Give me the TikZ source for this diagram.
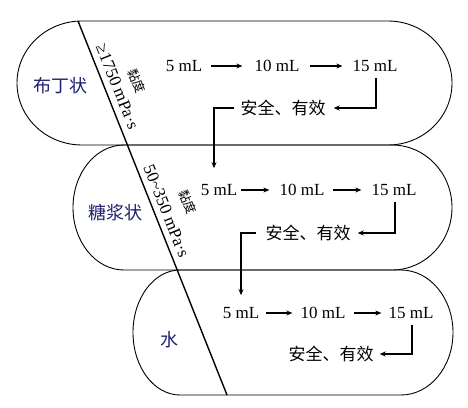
\documentclass[tikz,border=0pt]{standalone}
\usepackage{fontspec}
\setmainfont{Liberation Serif}
\newfontfamily\cjk{Noto Sans CJK SC}
\usetikzlibrary{arrows.meta}
\definecolor{navy}{HTML}{1F1F70}
\tikzset{
  stad/.style={draw=black,line width=0.9pt},
  ml/.style={inner sep=0pt,font=\fontsize{17}{20}\selectfont},
  ok/.style={inner sep=0pt,font=\fontsize{17}{20}\selectfont\cjk},
  lab/.style={inner sep=0pt,text=navy,font=\fontsize{18}{20}\selectfont\cjk},
  visc/.style={inner sep=0pt,rotate=-68.28,font=\fontsize{17}{20}\selectfont},
  nian/.style={inner sep=0pt,rotate=-68.28,font=\fontsize{12.5}{14}\selectfont\cjk},
  arr/.style={line width=1.3pt,-{Stealth[length=6pt,width=5pt]}},
}
\begin{document}
\begin{tikzpicture}[x=1pt,y=-1pt]
\useasboundingbox (0,0) rectangle (468,407);
% stadiums
\draw[stad] (82,21) -- (388,21) arc[start angle=-90,end angle=90,x radius=64,y radius=62]
  -- (82,145) arc[start angle=90,end angle=270,x radius=65,y radius=62] -- cycle;
\draw[stad] (124,145) -- (392,145) arc[start angle=-90,end angle=90,x radius=60,y radius=62.5]
  -- (124,270) arc[start angle=90,end angle=270,x radius=51,y radius=62.5] -- cycle;
\draw[stad] (180,270) -- (401,270) arc[start angle=-90,end angle=90,x radius=52,y radius=62.5]
  -- (180,395) arc[start angle=90,end angle=270,x radius=47,y radius=62.5] -- cycle;
% diagonal
\coordinate (dtop) at (78,21);
\coordinate (dbot) at (227,395);
\draw[line width=1.4pt] (dtop) -- (dbot);
% labels
\node[lab] (l1) at (60,86) {布丁状};
\node[lab] (l2) at (115,213) {糖浆状};
\node[lab] (l3) at (169,340) {水};
\node[visc] (v1) at (117.5,86.5) {≥1750 mPa·s};
\node[nian] (k1) at (136.7,81) {黏度};
\node[visc] (v2) at (166.5,211) {50\textasciitilde350 mPa·s};
\node[nian] (k2) at (188,202) {黏度};
% row 1
\node[ml] (n11) at (184,66) {5 mL};
\node[ml] (n12) at (277,66) {10 mL};
\node[ml] (n13) at (375,66) {15 mL};
\node[ok] (s1) at (283,108) {安全、有效};
% row 2
\node[ml] (n21) at (219,190) {5 mL};
\node[ml] (n22) at (302,190) {10 mL};
\node[ml] (n23) at (394,190) {15 mL};
\node[ok] (s2) at (308,233) {安全、有效};
% row 3
\node[ml] (n31) at (241,313) {5 mL};
\node[ml] (n32) at (323,313) {10 mL};
\node[ml] (n33) at (411,313) {15 mL};
\node[ok] (s3) at (331,354) {安全、有效};
% arrows row 1
\draw[arr,shorten <=9pt,shorten >=12pt] (n11.east) -- (n12.west);
\draw[arr,shorten <=10pt,shorten >=10pt] (n12.east) -- (n13.west);
\draw[arr] ([xshift=1pt,yshift=-6pt]n13.south) |- ([xshift=8pt]s1.east);
\draw[arr] ([xshift=-6pt]s1.west) -| ([xshift=-5pt,yshift=16pt]n21.north);
% arrows row 2
\draw[arr,shorten <=4pt,shorten >=10pt] (n21.east) -- (n22.west);
\draw[arr,shorten <=8pt,shorten >=10pt] (n22.east) -- (n23.west);
\draw[arr] ([xshift=1pt,yshift=-6pt]n23.south) |- ([xshift=7pt]s2.east);
\draw[arr] ([xshift=-9pt]s2.west) -| ([yshift=12pt]n31.north);
% arrows row 3
\draw[arr,shorten <=7pt,shorten >=8pt] (n31.east) -- (n32.west);
\draw[arr,shorten <=8pt,shorten >=7pt] (n32.east) -- (n33.west);
\draw[arr] ([xshift=1pt,yshift=-6pt]n33.south) |- ([xshift=6pt]s3.east);
\end{tikzpicture}
\end{document}
